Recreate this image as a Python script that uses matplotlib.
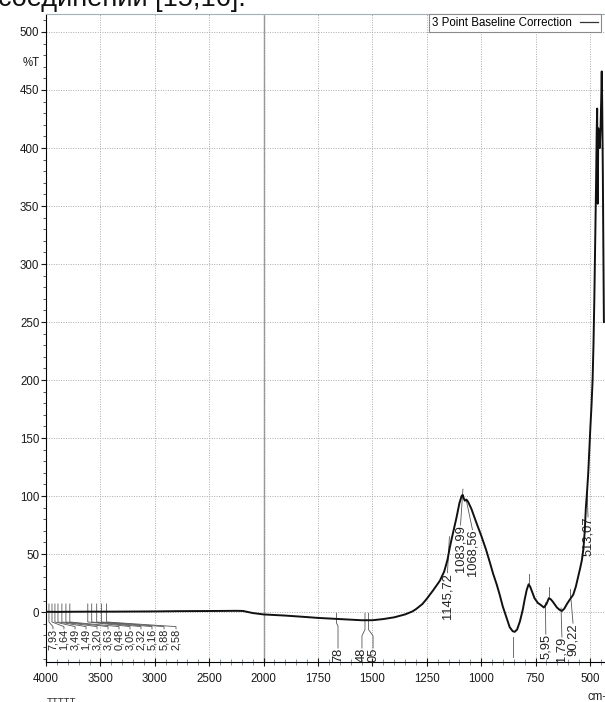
import numpy as np
import matplotlib
matplotlib.use('Agg')
import matplotlib.pyplot as plt
from matplotlib import font_manager
from matplotlib.lines import Line2D
from matplotlib.ticker import FixedLocator, FixedFormatter
from matplotlib.transforms import blended_transform_factory

names = {f.name for f in font_manager.fontManager.ttflist}
if 'Liberation Sans Narrow' in names:
	lab_font, fs = 'Liberation Sans Narrow', 10
else:
	lab_font, fs = 'Liberation Sans', 8.3
plt.rcParams['font.family'] = [lab_font, 'DejaVu Sans']

# spectrum (cm-1 , %T)
wn = [4000, 3900, 3800, 3600, 3400, 3200, 3000, 2800, 2600, 2400, 2250, 2190, 2150,
	  2100, 2050, 2000, 1900, 1800, 1750, 1700, 1650, 1600, 1550, 1500, 1450, 1400,
	  1350, 1317, 1300, 1270, 1250, 1220, 1190, 1170, 1155, 1145, 1137, 1125, 1114,
	  1100, 1090, 1085, 1080, 1075, 1068, 1060, 1045, 1022, 1000, 978, 962, 945, 929,
	  915, 901, 885, 869, 855, 846, 835, 822, 809, 800, 791, 782, 775, 769, 755, 740,
	  725, 712, 700, 689, 680, 671, 652, 640, 629, 618, 606, 592, 577, 565, 555, 545,
	  537, 530, 524, 519, 515, 512, 508, 503, 498, 493, 488, 484, 480, 476, 472, 469,
	  467, 466, 464, 462, 459, 455, 451, 448, 446, 444, 441, 438, 436]
tr = [0.3, 0.2, 0.3, 0.4, 0.4, 0.5, 0.6, 0.8, 0.9, 1.0, 1.1, 1.0, 0.2,
	  -0.8, -1.4, -2.0, -3.0, -4.3, -5.0, -5.5, -6.0, -6.5, -7.0, -7.0, -6.0, -4.5,
	  -2.0, 0.5, 2.5, 7.0, 11.5, 19, 27, 35, 45, 55, 62, 72, 81,
	  94, 100, 101, 98, 96, 97, 95, 89, 77, 66, 54, 44, 33, 24,
	  15, 5, -4, -13, -16.5, -17, -15, -8, 2, 11, 19, 24, 22, 19, 12, 8,
	  6, 4, 7, 12, 11, 9, 4, 2, 1, 3, 7, 11, 15, 22, 30, 38,
	  45, 55, 70, 90, 100, 108, 120, 140, 160, 178, 200, 230, 270, 320, 370, 415,
	  434, 380, 352, 417, 405, 400, 420, 445, 466, 440, 380, 300, 250]

# peak labels (only the visible part of each label)
left_peaks = [3973, 3945, 3918, 3890, 3854, 3817, 3781, 3616, 3580, 3534, 3489, 3443]
left_pos = [3936, 3835, 3733, 3632, 3531, 3430, 3329, 3228, 3127, 3026, 2915, 2805]
left_labels = ['7,93', '1,64', '3,49', '1,49', '3,20', '3,63', '0,48', '3,05', '2,32', '5,16', '5,88', '2,58']

mid_peaks = [1665, 1534, 1518]
mid_pos = [1658, 1548, 1497]
mid_labels = ['78', '48', '05']

fp_labels = ['1145,72', '1083,99', '1068,56', '513,07']
fp_pos = [1155, 1095, 1040, 509]
fp_top = [34, 75, 71, 82]
fp_end = [(1146, 65), (1084, 106), (1068, 96), (513, 103)]

low_labels = ['5,95', '1,79', '90,22']
low_pos = [703, 629, 578]
low_top = [-19, -21.5, -9.5]
low_end = [(705, 8), (633, 3.5), (587, 10.5)]

xmajor = [4000, 3500, 3000, 2500, 2000, 1750, 1500, 1250, 1000, 750, 500]
xminor = [v for v in list(range(3900, 2000, -100)) + list(range(1950, 430, -50)) if v not in xmajor]
ymajor = list(range(0, 501, 50))
yminor = [v for v in range(-40, 515, 10) if v not in ymajor]


def fwd(x):
	x = np.asarray(x, dtype=float)
	return np.where(x >= 2000, x, 2 * x - 2000)


def inv(u):
	u = np.asarray(u, dtype=float)
	return np.where(u >= 2000, u, (u + 2000) / 2)


fig = plt.figure(figsize=(6.05, 7.02), dpi=100)
ax = fig.add_axes([46 / 605, 1 - 662 / 702, 559 / 605, 648 / 702])
ax.set_xscale('function', functions=(fwd, inv))

ax.plot(wn, tr, color='#111111', lw=1.4, zorder=5)
ax.set_xlim(4000, 431)
ax.set_ylim(-43, 515.5)

ax.xaxis.set_major_locator(FixedLocator(xmajor))
ax.xaxis.set_major_formatter(FixedFormatter([str(v) for v in xmajor]))
ax.xaxis.set_minor_locator(FixedLocator(xminor))
ax.yaxis.set_major_locator(FixedLocator(ymajor))
ax.yaxis.set_minor_locator(FixedLocator(yminor))

ax.grid(which='major', color='#ababab', ls=(0, (1, 1.5)), lw=0.7, zorder=0)
ax.axvline(2000, color='#8c8c8c', lw=1.0, zorder=1)

ax.spines['right'].set_visible(False)
ax.spines['top'].set_color('#a3b0b8')
ax.spines['left'].set_linewidth(0.8)
ax.spines['bottom'].set_linewidth(0.8)

ax.tick_params(axis='x', which='major', direction='inout', length=6, width=0.8,
			   pad=5, labelsize=fs, colors='#1a1a1a')
ax.tick_params(axis='x', which='minor', direction='inout', length=4.5, width=0.7,
			   color='#7a98ad')
ax.tick_params(axis='y', which='major', direction='out', length=3.8, width=0.8,
			   pad=1, labelsize=fs, colors='#1a1a1a')
ax.tick_params(axis='y', which='minor', direction='out', length=2.5, width=0.7,
			   color='#555555')

trans = blended_transform_factory(ax.transAxes, ax.transData)
ax.text(-0.012, 473, '%T', transform=trans, ha='right', va='center', fontsize=fs, color='#1a1a1a')

# legend box cut by the right edge
h = Line2D([], [], color='#333333', lw=0.9)
leg = ax.legend([h], ['3 Point Baseline Correction'], loc='upper left',
				bbox_to_anchor=(383 / 559, 1.0), markerfirst=False, frameon=True,
				fancybox=False, edgecolor='#8a8a8a', framealpha=1, borderaxespad=0,
				borderpad=0.25, handlelength=1.6, handletextpad=0.7, fontsize=fs)
leg.get_frame().set_linewidth(0.8)

lc = '#555555'
lw = 0.6
tfs = fs + 1

for p, q, s in zip(left_peaks, left_pos, left_labels):
	ax.plot([p, p, q, q], [7, -8.5, -12.5, -14.5], color=lc, lw=lw, clip_on=False, zorder=4)
	ax.text(q, -14.5, s, rotation=90, ha='center', va='top', fontsize=fs - 0.5, color='#222222',
			clip_on=False, linespacing=1.0)

ax.plot([mid_peaks[0], mid_peaks[0], mid_pos[0], mid_pos[0]], [-1, -9.5, -12, -31],
		color=lc, lw=lw, clip_on=False, zorder=4)
for p, q in zip(mid_peaks[1:], mid_pos[1:]):
	ax.plot([p, p, q, q], [-1, -15, -20.5, -31], color=lc, lw=lw, clip_on=False, zorder=4)
for q, s in zip(mid_pos, mid_labels):
	ax.text(q, -31, s, rotation=90, ha='center', va='top', fontsize=tfs, color='#222222', clip_on=False)

for q, top, end, s in zip(fp_pos, fp_top, fp_end, fp_labels):
	ax.plot([q, end[0]], [top, end[1]], color=lc, lw=lw, zorder=4)
	ax.text(q, top, s, rotation=90, ha='center', va='top', fontsize=tfs, color='#222222')

for q, top, end, s in zip(low_pos, low_top, low_end, low_labels):
	ax.plot([q, end[0]], [top, end[1]], color=lc, lw=lw, zorder=4, clip_on=False)
	ax.text(q, top, s, rotation=90, ha='center', va='top', fontsize=tfs, color='#222222', clip_on=False)

# small peak marks without visible labels
ax.plot([855, 855], [-21.5, -39], color=lc, lw=lw, zorder=4)
for p, y0, y1 in [(779, 25, 33), (689, 13, 21.5), (592, 13, 20)]:
	ax.plot([p, p], [y0, y1], color=lc, lw=lw, zorder=4)

# bits of surrounding page text
fig.text(-0.003, 1 - 6.5 / 702, 'соединении [15,16].', fontsize=19.5, va='baseline', ha='left',
		 family=['Liberation Sans', 'DejaVu Sans'], color='#111111')
fig.text(588 / 605, 1 - 691 / 702, 'cm-', ha='left', va='top', fontsize=fs, color='#222222')
fig.text(47 / 605, 1 - 698 / 702, 'TTTTT', ha='left', va='top', fontsize=7, color='#333333')

fig.savefig('out.png', dpi=100)
